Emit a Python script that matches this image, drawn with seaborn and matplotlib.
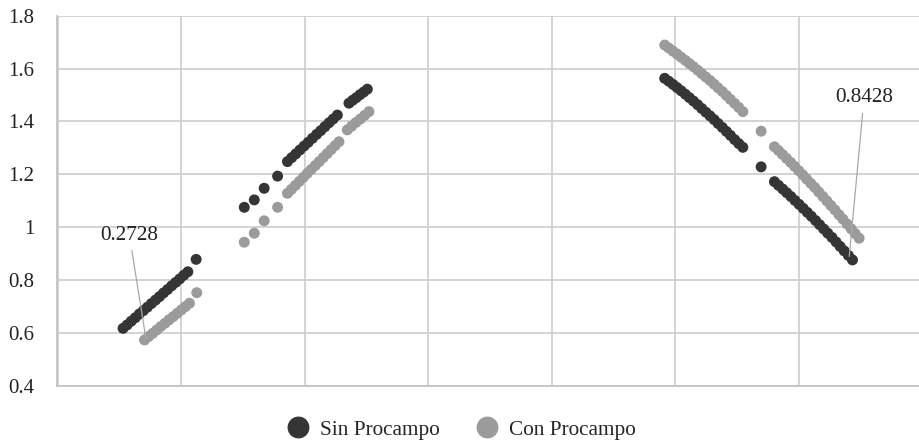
import pandas as pd
import seaborn as sns
import matplotlib.pyplot as plt
from matplotlib.ticker import FuncFormatter

# Sin Procampo (serie oscura)
sin_x = [0.527, 0.560, 0.593, 0.626, 0.658, 0.691, 0.724, 0.757, 0.790, 0.822, 0.855, 0.888,
         0.921, 0.954, 0.986, 1.019, 1.052, 1.119,
         1.509, 1.590, 1.670, 1.779,
         1.859, 1.893, 1.926, 1.960, 1.994, 2.027, 2.061, 2.095, 2.128, 2.162, 2.196, 2.229, 2.263,
         2.357, 2.387, 2.417, 2.446, 2.476, 2.506,
         4.915, 4.948, 4.982, 5.015, 5.048, 5.082, 5.115, 5.148, 5.182, 5.215, 5.248, 5.282,
         5.315, 5.348, 5.382, 5.415, 5.448, 5.482, 5.515, 5.548, 5.696,
         5.804, 5.837, 5.871, 5.904, 5.937, 5.970, 6.004, 6.037, 6.070, 6.103, 6.137, 6.170,
         6.203, 6.236, 6.270, 6.303, 6.336, 6.369, 6.403, 6.436]
sin_y = [0.617, 0.630, 0.644, 0.657, 0.671, 0.684, 0.697, 0.711, 0.724, 0.737, 0.751, 0.764,
         0.778, 0.791, 0.804, 0.818, 0.831, 0.878,
         1.075, 1.103, 1.147, 1.193,
         1.248, 1.263, 1.277, 1.292, 1.307, 1.321, 1.336, 1.351, 1.365, 1.380, 1.395, 1.409, 1.424,
         1.469, 1.480, 1.490, 1.501, 1.511, 1.522,
         1.563, 1.552, 1.540, 1.528, 1.516, 1.503, 1.490, 1.477, 1.463, 1.449, 1.435, 1.421,
         1.407, 1.392, 1.377, 1.362, 1.347, 1.331, 1.316, 1.302, 1.228,
         1.172, 1.158, 1.144, 1.130, 1.116, 1.101, 1.086, 1.071, 1.056, 1.041, 1.025, 1.009,
         0.993, 0.977, 0.961, 0.944, 0.927, 0.910, 0.893, 0.876]

# Con Procampo (serie gris)
con_x = [0.701, 0.734, 0.767, 0.800, 0.833, 0.866, 0.899, 0.932, 0.966, 0.999, 1.032, 1.065, 1.124,
         1.509, 1.590, 1.670, 1.779,
         1.859, 1.891, 1.923, 1.955, 1.987, 2.019, 2.051, 2.084, 2.116, 2.148, 2.180, 2.212, 2.244, 2.276,
         2.344, 2.379, 2.414, 2.449, 2.484, 2.519,
         4.915, 4.948, 4.982, 5.015, 5.048, 5.082, 5.115, 5.148, 5.182, 5.215, 5.248, 5.282,
         5.315, 5.348, 5.382, 5.415, 5.448, 5.482, 5.515, 5.548, 5.696,
         5.804, 5.837, 5.869, 5.902, 5.935, 5.967, 6.000, 6.033, 6.065, 6.098, 6.131, 6.163,
         6.196, 6.229, 6.261, 6.294, 6.327, 6.359, 6.392, 6.425, 6.457, 6.490]
con_y = [0.573, 0.586, 0.598, 0.611, 0.624, 0.636, 0.649, 0.661, 0.674, 0.687, 0.699, 0.712, 0.752,
         0.943, 0.977, 1.024, 1.075,
         1.128, 1.143, 1.158, 1.173, 1.188, 1.203, 1.218, 1.233, 1.248, 1.263, 1.278, 1.293, 1.308, 1.323,
         1.368, 1.382, 1.396, 1.409, 1.423, 1.437,
         1.689, 1.678, 1.666, 1.655, 1.643, 1.631, 1.619, 1.607, 1.594, 1.581, 1.568, 1.555,
         1.541, 1.527, 1.513, 1.498, 1.483, 1.468, 1.453, 1.437, 1.363,
         1.304, 1.290, 1.275, 1.260, 1.245, 1.230, 1.214, 1.198, 1.182, 1.166, 1.150, 1.133,
         1.116, 1.099, 1.082, 1.065, 1.047, 1.030, 1.012, 0.994, 0.976, 0.958]

series_names = ["Sin Procampo", "Con Procampo"]
y_ticks = [0.4, 0.6, 0.8, 1.0, 1.2, 1.4, 1.6, 1.8]

# etiquetas de datos: (texto, punto señalado, posición del texto)
labels = [("0.2728", (0.712, 0.579), (0.578, 0.970)),
          ("0.8428", (6.410, 0.889), (6.530, 1.489))]


def build_df():
    df_sin = pd.DataFrame({"x": sin_x, "y": sin_y, "serie": series_names[0]})
    df_con = pd.DataFrame({"x": con_x, "y": con_y, "serie": series_names[1]})
    return pd.concat([df_sin, df_con], ignore_index=True)


def main():
    df = build_df()

    sns.set_theme(style="white")
    plt.rcParams["font.family"] = ["Liberation Serif", "DejaVu Serif"]

    fig = plt.figure(figsize=(9.19, 4.41), dpi=100)
    ax = fig.add_axes([0.0615, 0.1254, 0.9385, 0.839])

    palette = {"Sin Procampo": "#353535", "Con Procampo": "#9b9b9b"}
    sns.scatterplot(data=df, x="x", y="y", hue="serie", palette=palette,
                    s=62, linewidth=0, ax=ax, zorder=3)

    # gridlines verticales sin etiquetas
    ax.set_xlim(-0.012, 6.975)
    ax.set_ylim(0.4, 1.8)
    ax.set_xticks(range(0, 7))
    ax.set_xticklabels([])
    ax.set_yticks(y_ticks)
    ax.yaxis.set_major_formatter(FuncFormatter(lambda v, p: f"{v:g}"))
    ax.tick_params(axis="both", length=0, labelsize=15, colors="#222222", pad=16)
    ax.grid(True, color="#d0d0d0", linewidth=1.3)
    ax.set_axisbelow(True)
    ax.set_xlabel("")
    ax.set_ylabel("")

    for side in ["top", "right"]:
        ax.spines[side].set_visible(False)
    for side in ["left", "bottom"]:
        ax.spines[side].set_color("#c4c4c4")
        ax.spines[side].set_linewidth(1.3)

    for text, xy, xytext in labels:
        ax.annotate(text, xy=xy, xytext=xytext, ha="center", va="center",
                    fontsize=15.3, color="#222222",
                    arrowprops=dict(arrowstyle="-", color="#a8a8a8", lw=0.9,
                                    shrinkA=2, shrinkB=0))

    sns.move_legend(ax, "center", bbox_to_anchor=(0.469, -0.119), ncol=2,
                    frameon=False, title=None, fontsize=15.3, markerscale=2.0,
                    handlelength=1.1, handletextpad=0.47, columnspacing=1.7)

    fig.savefig("out.png", dpi=100)
    plt.close(fig)


if __name__ == "__main__":
    main()
